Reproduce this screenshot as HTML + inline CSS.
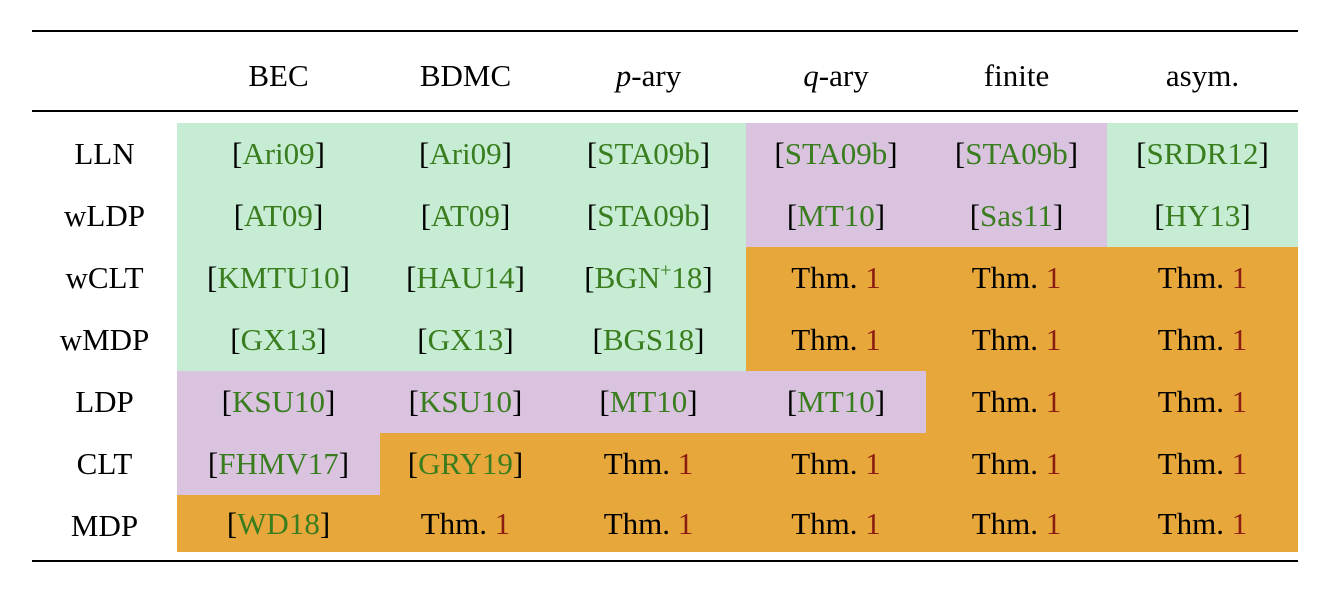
<!DOCTYPE html>
<html><head><meta charset="utf-8">
<style>
body{margin:0;width:1329px;height:594px;background:#fff;position:relative;overflow:hidden;font-family:"Liberation Serif",serif;}
.rule{position:absolute;left:32px;width:1266px;background:#000;}
.cell{position:absolute;display:flex;align-items:center;justify-content:center;font-size:31px;color:#000;}
.g{background:#c6ecd3}.p{background:#d9c3df}.o{background:#e8a73a}
.c{color:#3a7d1f}.r{color:#8a1c12}
</style></head><body>
<div class="rule" style="top:30px;height:2px"></div>
<div class="rule" style="top:110px;height:1.5px"></div>
<div class="rule" style="top:560px;height:2px"></div>
<div id="t"></div>
<script>
const cols=[177,380,551,746,926,1107,1298];
const heads=['BEC','BDMC','<i>p</i>-ary','<i>q</i>-ary','finite','asym.'];
const rowsL=['LLN','wLDP','wCLT','wMDP','LDP','CLT','MDP'];
const colorsM=['gggppg','gggppg','gggooo','gggooo','ppppoo','pooooo','oooooo'];
const T='Thm.&nbsp;<span class="r">1</span>';
const txt=[
['Ari09','Ari09','STA09b','STA09b','STA09b','SRDR12'],
['AT09','AT09','STA09b','MT10','Sas11','HY13'],
['KMTU10','HAU14','BGN<sup style="font-size:20px">+</sup>18',T,T,T],
['GX13','GX13','BGS18',T,T,T],
['KSU10','KSU10','MT10','MT10',T,T],
['FHMV17','GRY19',T,T,T,T],
['WD18',T,T,T,T,T]];
const t=document.getElementById('t');
function mk(cls,l,tp,w,h,html,name){const d=document.createElement('div');d.className=cls;d.style.cssText=`left:${l}px;top:${tp}px;width:${w}px;height:${h}px`;d.innerHTML='<span>'+html+'</span>';


t.appendChild(d);}
heads.forEach((h,i)=>mk('cell',cols[i],45,cols[i+1]-cols[i],62,h,'header-'+i));
const top0=123,rh=62;
rowsL.forEach((r,ri)=>{
 mk('cell',32,top0+ri*rh,145,rh,r,'row-label-'+r.toLowerCase());
 for(let c=0;c<6;c++){
  const v=txt[ri][c];
  const html=v.startsWith('Thm')?v:'[<span class="c">'+v+'</span>]';
  mk('cell '+colorsM[ri][c],cols[c],top0+ri*rh,cols[c+1]-cols[c],ri==6?rh-5:rh,html,'cell-'+r.toLowerCase()+'-'+c);
 }
});
</script>
</body></html>
